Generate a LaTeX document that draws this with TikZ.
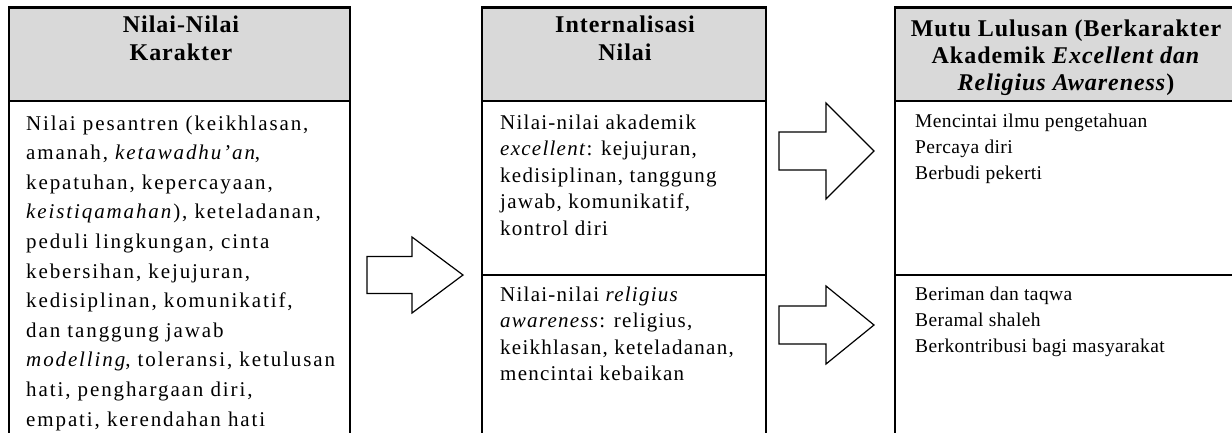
\documentclass[tikz,border=0pt]{standalone}
\usepackage{fontspec}
\setmainfont{Liberation Serif}
\newfontfamily\fA[LetterSpace=9]{Liberation Serif}
\newfontfamily\fB[LetterSpace=6]{Liberation Serif}
\newfontfamily\fC[LetterSpace=2]{Liberation Serif}
\newfontfamily\fH[LetterSpace=4]{Liberation Serif}
\definecolor{hdrgray}{RGB}{217,217,217}
\begin{document}
\begin{tikzpicture}[x=1pt,y=-1pt,
  frame/.style={line width=2.3pt},
  hdrfill/.style={fill=hdrgray},
  blockarrow/.style={draw, line width=1.2pt, fill=white, line join=miter},
  bodytext/.style={anchor=base west, inner sep=0pt},
  headtext/.style={anchor=base, inner sep=0pt}]
\useasboundingbox (0,0) rectangle (1232,432);
\clip (0,0) rectangle (1232,432);
\fill[white] (0,0) rectangle (1232,432);
% header fills
\fill[hdrfill] (9,7.5) rectangle (350,101);
\fill[hdrfill] (482,7.5) rectangle (766,101);
\fill[hdrfill] (895,7.5) rectangle (1245,101);
% frames
\draw[frame] (9,445) |- (350,7.5) -- (350,445);
\draw[frame] (9,101) -- (350,101);
\draw[frame] (482,445) |- (766,7.5) -- (766,445);
\draw[frame] (482,101) -- (766,101);
\draw[frame] (482,275) -- (766,275);
\draw[frame] (895,445) |- (1245,7.5);
\draw[frame] (895,101) -- (1245,101);
\draw[frame] (895,275) -- (1245,275);
% headers
\node[headtext] (h1) at (181,32) {\parbox[t]{320pt}{\centering\fH\bfseries\fontsize{24}{28}\selectfont Nilai-Nilai\\Karakter}};
\node[headtext] (h2) at (625,32) {\parbox[t]{270pt}{\centering\fH\bfseries\fontsize{24}{28}\selectfont Internalisasi\\Nilai}};
\node[headtext] (h3) at (1066,36) {\parbox[t]{330pt}{\centering\fH\bfseries\fontsize{24}{27}\selectfont Mutu Lulusan (Berkarakter\\Akademik \textit{Excellent dan}\\\textit{Religius Awareness})}};
% bodies
\node[bodytext] (t1) at (26,130) {\parbox[t]{330pt}{\raggedright\fA\fontsize{21}{29.6}\selectfont
Nilai pesantren (keikhlasan,\\
amanah, \textit{ketawadhu’an},\\
kepatuhan, kepercayaan,\\
\textit{keistiqamahan}), keteladanan,\\
peduli lingkungan, cinta\\
kebersihan, kejujuran,\\
kedisiplinan, komunikatif,\\
dan tanggung jawab\\
\textit{modelling}, toleransi, ketulusan\\
hati, penghargaan diri,\\
empati, kerendahan hati}};
\node[bodytext] (t2a) at (500,129) {\parbox[t]{265pt}{\raggedright\fB\fontsize{21}{26.5}\selectfont
Nilai-nilai akademik\\
\textit{excellent}: kejujuran,\\
kedisiplinan, tanggung\\
jawab, komunikatif,\\
kontrol diri}};
\node[bodytext] (t2b) at (500,301) {\parbox[t]{265pt}{\raggedright\fB\fontsize{21}{26.5}\selectfont
Nilai-nilai \textit{religius}\\
\textit{awareness}: religius,\\
keikhlasan, keteladanan,\\
mencintai kebaikan}};
\node[bodytext] (t3a) at (915,127) {\parbox[t]{310pt}{\raggedright\fC\fontsize{19.5}{26}\selectfont
Mencintai ilmu pengetahuan\\
Percaya diri\\
Berbudi pekerti}};
\node[bodytext] (t3b) at (915,300) {\parbox[t]{310pt}{\raggedright\fC\fontsize{19.5}{26}\selectfont
Beriman dan taqwa\\
Beramal shaleh\\
Berkontribusi bagi masyarakat}};
% block arrows
\coordinate (a1) at (367,275);
\coordinate (a2) at (779,151);
\coordinate (a3) at (779,325);
\draw[blockarrow] (a1) ++(0,-18.5) -- ++(45,0) -- ++(0,-19.5) -- ++(51,38) -- ++(-51,38) -- ++(0,-19.5) -- ++(-45,0) -- cycle;
\draw[blockarrow] (a2) ++(0,-19) -- ++(47,0) -- ++(0,-29) -- ++(48,48) -- ++(-48,48) -- ++(0,-29) -- ++(-47,0) -- cycle;
\draw[blockarrow] (a3) ++(0,-19) -- ++(47,0) -- ++(0,-20) -- ++(48,39) -- ++(-48,39) -- ++(0,-20) -- ++(-47,0) -- cycle;
\end{tikzpicture}
\end{document}
